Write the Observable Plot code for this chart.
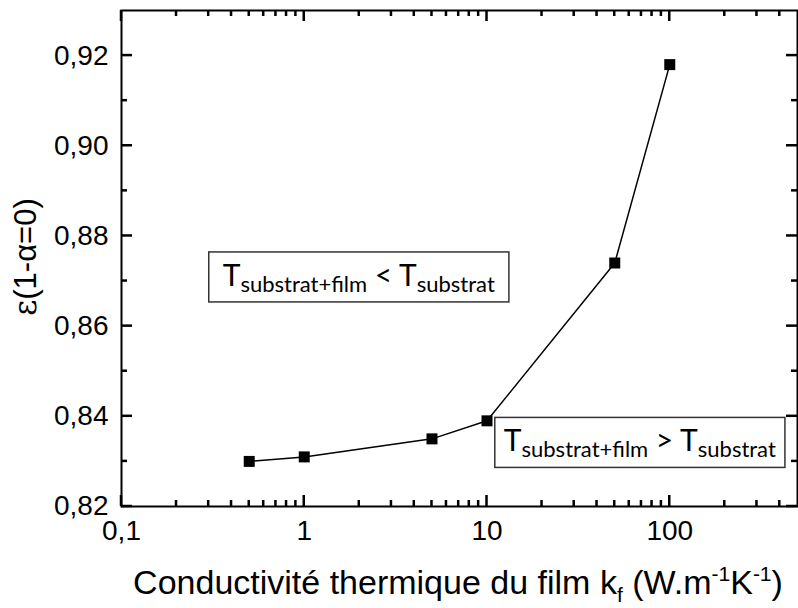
<!DOCTYPE html>
<html><head><meta charset="utf-8">
<script src="https://cdn.jsdelivr.net/npm/d3@7"></script>
<script src="https://cdn.jsdelivr.net/npm/@observablehq/plot@0.6"></script>
<style>
html,body{margin:0;padding:0;background:#fff;}
svg{display:block;}
</style>
</head><body>
<div id="chart"></div>
<script>
// Data
const conductivity = [0.5, 1, 5, 10, 50, 100];
const emissivity = [0.830, 0.831, 0.835, 0.839, 0.874, 0.918];
const yMajorTicks = [0.82, 0.84, 0.86, 0.88, 0.90, 0.92];
const yMinorTicks = [0.83, 0.85, 0.87, 0.89, 0.91];
const xMajorTicks = [0.1, 1, 10, 100];
const xMinorTicks = [0.2,0.3,0.4,0.5,0.6,0.7,0.8,0.9, 2,3,4,5,6,7,8,9, 20,30,40,50,60,70,80,90, 200,300,400];
const annotations = [
  {x: 2, y: 0.8708, sign: "<", pad: 14},
  {x: 69, y: 0.8341, sign: ">", pad: 9}
];

const data = conductivity.map((k, i) => ({k, e: emissivity[i]}));

const W = 798, H = 608;
const mL = 121, mR = 1, mT = 10, mB = 102;
const MAJ = 11, MIN = 6;
const fmtX = d => String(d).replace(".", ",");
const fmtY = d => d.toFixed(2).replace(".", ",");

const plot = Plot.plot({
  width: W, height: H,
  marginLeft: mL, marginRight: mR, marginTop: mT, marginBottom: mB,
  style: {fontFamily: "'Liberation Sans', Arial, sans-serif", fontSize: "28px", color: "#000", background: "#fff"},
  x: {type: "log", domain: [0.1, 500]},
  y: {domain: [0.82, 0.93]},
  marks: [
    Plot.axisX(xMajorTicks, {tickSize: 0, tickPadding: 14, label: null, tickFormat: fmtX, fontSize: 28}),
    Plot.axisY(yMajorTicks, {tickSize: 0, tickPadding: 13, label: null, tickFormat: fmtY, fontSize: 28}),
    Plot.line(data, {x: "k", y: "e", stroke: "#000", strokeWidth: 1.5}),
    Plot.dot(data, {x: "k", y: "e", symbol: "square", r: 6.2, fill: "#000", stroke: "none"}),
    Plot.frame({stroke: "#000", strokeWidth: 2})
  ]
});

document.getElementById("chart").appendChild(plot);

const svg = d3.select(plot);
const sx = plot.scale("x"), sy = plot.scale("y");
const fLeft = mL, fRight = W - mR, fTop = mT, fBottom = H - mB;

// inward ticks on all four sides (positions from Plot's scales)
const tg = svg.append("g");
const xt = [...xMajorTicks.map(v => [v, MAJ]), ...xMinorTicks.map(v => [v, MIN])];
const yt = [...yMajorTicks.map(v => [v, MAJ]), ...yMinorTicks.map(v => [v, MIN])];
const segs = [];
xt.forEach(([v, len]) => {
  const px = sx.apply(v);
  segs.push([px, fBottom, px, fBottom - len]);
  segs.push([px, fTop, px, fTop + len]);
});
yt.forEach(([v, len]) => {
  const py = sy.apply(v);
  segs.push([fLeft, py, fLeft + len, py]);
  segs.push([fRight, py, fRight - len, py]);
});
tg.selectAll("path.tk").data(segs).join("path")
  .attr("class", "tk")
  .attr("d", s => `M${s[0]},${s[1]}L${s[2]},${s[3]}`)
  .attr("fill", "none")
  .attr("stroke", "#000")
  .attr("stroke-width", 2.5);

// annotation boxes
const boxFont = "Lato, 'Open Sans', sans-serif";
annotations.forEach(a => {
  const cx = sx.apply(a.x), cy = sy.apply(a.y);
  const g = svg.append("g");
  const t = g.append("text")
    .attr("font-family", boxFont).attr("font-size", 30).attr("fill", "#000")
    .attr("text-anchor", "middle").attr("x", cx).attr("y", cy + 9);
  t.append("tspan").text("T");
  t.append("tspan").attr("font-size", 22).attr("dy", 6).text("substrat+film");
  t.append("tspan").attr("dy", -6).text(" " + a.sign + " T");
  t.append("tspan").attr("font-size", 22).attr("dy", 6).text("substrat");
  const bb = t.node().getBBox();
  g.insert("rect", "text")
    .attr("x", bb.x - a.pad).attr("y", cy - 25).attr("width", bb.width + 2 * a.pad).attr("height", 50)
    .attr("fill", "#fff").attr("stroke", "#333").attr("stroke-width", 1.5);
});

// y label
const yl = svg.append("text")
  .attr("transform", `translate(36,257) rotate(-90)`)
  .attr("text-anchor", "middle")
  .attr("font-family", "'Liberation Sans', Arial, sans-serif").attr("font-size", 31).attr("fill", "#000");
yl.append("tspan").attr("font-family", "'DejaVu Serif', serif").text("ε");
yl.append("tspan").text("(1-α=0)");

// x label
const xl = svg.append("text")
  .attr("x", 458).attr("y", 594)
  .attr("text-anchor", "middle")
  .attr("font-family", "'Liberation Sans', Arial, sans-serif").attr("font-size", 34).attr("fill", "#000");
xl.append("tspan").text("Conductivité thermique du film k");
xl.append("tspan").attr("font-size", 21).attr("dy", 8).text("f");
xl.append("tspan").attr("dy", -8).text(" (W.m");
xl.append("tspan").attr("font-size", 21).attr("dy", -13).text("-1");
xl.append("tspan").attr("dy", 13).text("K");
xl.append("tspan").attr("font-size", 21).attr("dy", -13).text("-1");
xl.append("tspan").attr("dy", 13).text(")");
</script>
</body></html>
